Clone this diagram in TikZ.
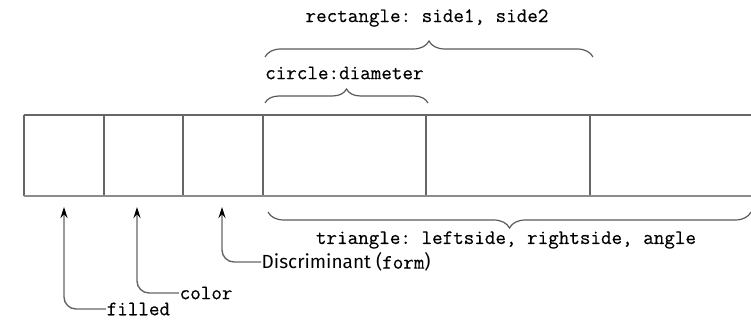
\documentclass[tikz,border=0pt]{standalone}
\usepackage{fontspec}
\usetikzlibrary{decorations.pathreplacing,arrows.meta}
\newfontfamily\codefont[FakeBold=0.4]{Latin Modern Mono}
\newfontfamily\labelfont{Fira Sans}
\newcommand\codesize{\fontsize{20.5}{22}\selectfont}
\begin{document}
\frenchspacing
\begin{tikzpicture}[x=1pt,y=-1pt,
  cell/.style={minimum height=81pt, inner sep=0pt, outer sep=0pt, anchor=north west},
  rule/.style={draw=black!60, line width=1.3pt},
  base/.style={draw=black!45, line width=2.4pt},
  brc/.style={draw=black!65, line width=1.2pt, decorate, decoration={brace, amplitude=#1}},
  code/.style={font=\codefont\codesize, inner sep=0pt},
  tag/.style={font=\labelfont\fontsize{19}{20}\selectfont, inner sep=0.5pt, anchor=west},
  pointer/.style={draw=black!60, line width=1.4pt, rounded corners=12pt, {Stealth[length=11pt,width=7pt,black]}-}
]
\useasboundingbox (0,0) rectangle (751,320);

% the record's fields
\node[cell, minimum width=80pt]  (c1) at (24,115)  {};
\node[cell, minimum width=79pt]  (c2) at (104,115) {};
\node[cell, minimum width=80pt]  (c3) at (183,115) {};
\node[cell, minimum width=163pt] (c4) at (263,115) {};
\node[cell, minimum width=164pt] (c5) at (426,115) {};
\node[cell, minimum width=161pt] (c6) at (590,115) {};

\draw[rule] (c1.north west) -- (c6.north east);
\foreach \c in {c1,c2,c3,c4,c5,c6}
  \draw[rule] (\c.north west) -- (\c.south west);
\draw[base] (c1.south west) -- (c6.south east);

% variant part braces
\coordinate (r0) at (265,57);  \coordinate (r1) at (593,57);
\coordinate (d0) at (265,103); \coordinate (d1) at (428,103);
\coordinate (t0) at (751,212); \coordinate (t1) at (268,212);
\draw[brc=16pt] (r0) -- (r1);
\draw[brc=14pt] (d0) -- (d1);
\draw[brc=16pt] (t0) -- (t1);

\node[code] (rect) at (427,18) {rectangle: side1, side2};
\node[code, anchor=west] (circ) at (265,73) {circle:diameter};
\node[code] (tri) at (506,240) {triangle: leftside, rightside, angle};

% pointers to the fixed fields
\node[tag] (filled) at (106,309) {\codefont\codesize filled};
\node[tag] (color) at (179,293) {\codefont\codesize color};
\node[tag] (disc) at (261,262) {Discriminant ({\codefont\codesize form})};

\coordinate (p1) at (64,207);
\coordinate (p2) at (137,207);
\coordinate (p3) at (222,207);
\draw[pointer] (p1) |- (filled.west);
\draw[pointer] (p2) |- (color.west);
\draw[pointer] (p3) |- (disc.west);
\end{tikzpicture}
\end{document}
